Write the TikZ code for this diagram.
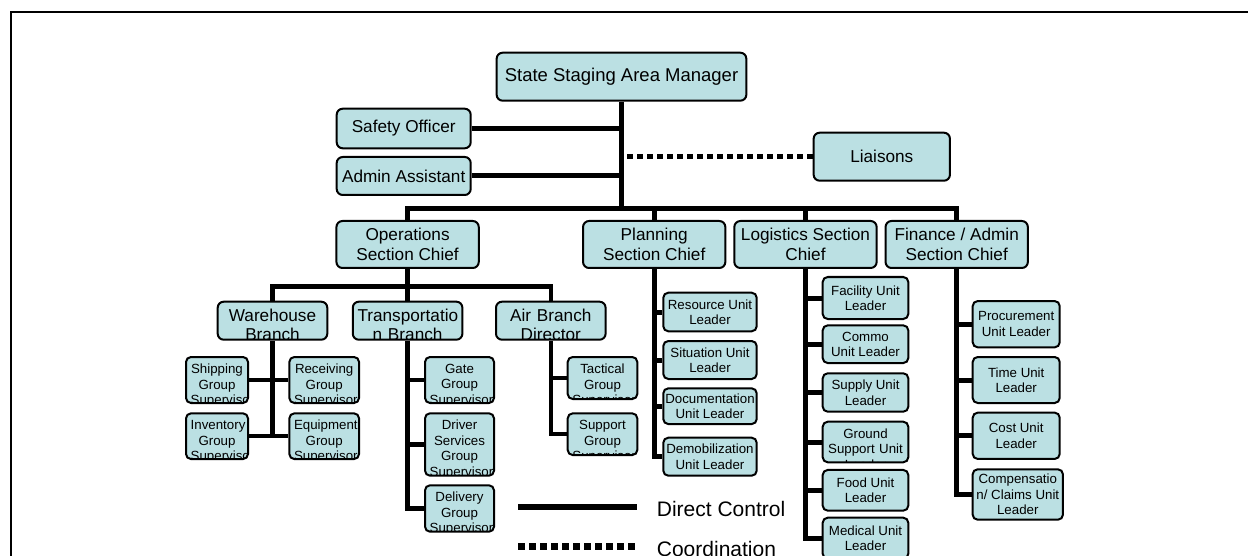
\documentclass[tikz,border=0pt]{standalone}
\usepackage{fontspec}
\setmainfont{Liberation Sans}
\usetikzlibrary{positioning}
\definecolor{boxfill}{HTML}{BBE0E3}
\hyphenpenalty=10000
\exhyphenpenalty=10000
\tikzset{
	box/.style={draw=black, line width=2pt, fill=boxfill, rounded corners=6pt, align=center, inner sep=2pt},
	big/.style={box, font=\fontsize{17.2}{19.8}\selectfont},
	unit/.style={box, rounded corners=5pt, font=\fontsize{13.3}{15.5}\selectfont},
	cut/.style 2 args={path picture={\node[draw=none, fill=none, inner sep=0pt, minimum size=0pt, align=center, text width=#1, anchor=north] at ([yshift=-6pt]path picture bounding box.north) {#2};}},
	direct/.style={line width=5pt},
	branchline/.style={line width=4.5pt},
	dotline/.style={line width=5pt, dash pattern=on 6pt off 4pt},
	legline/.style={line width=6pt},
	legdot/.style={line width=6.7pt, dash pattern=on 6.7pt off 4.3pt},
	legtext/.style={inner sep=0pt, font=\fontsize{21}{25}\selectfont}
}

\begin{document}
\begin{tikzpicture}[x=1pt, y=-1pt]

		\useasboundingbox (0,0) rectangle (1248,556);
		\clip (0,0) rectangle (1248,556);
		\draw[line width=2.3pt] (11,12.2) rectangle (1300,600);

		\node[big, font=\fontsize{18.5}{21}\selectfont, minimum width=249.7, minimum height=48] (mgr) at (621.5,76.7) {State Staging Area Manager};
		\node[big, minimum width=134, minimum height=39.6] (safe) at (403.7,128.5) {Safety Officer};
		\node[big, minimum width=134, minimum height=38] (asst) at (403.7,176) {Admin Assistant};
		\node[big, minimum width=136.3, minimum height=48] (lia) at (881.8,156.7) {Liaisons};
		\coordinate (bus) at (621.5,208.3);

		\node[big, minimum width=142.3, minimum height=47] (ops) at (407.6,244.5) {Operations\\Section Chief};
		\node[big, minimum width=142.3, minimum height=47] (plan) at (654.2,244.5) {Planning\\Section Chief};
		\node[big, minimum width=142.3, minimum height=47] (log) at (805.5,244.5) {Logistics Section\\Chief};
		\node[big, minimum width=142.3, minimum height=47] (fin) at (956.7,244.5) {Finance / Admin\\Section Chief};

		\begin{scope}
			\coordinate (opsbus) at (407.6,286.7);
			\node[big, minimum width=109.6, minimum height=38, cut={100.2pt}{Warehouse\\Branch}] (wh) at (272.5,320.7) {};
			\node[big, minimum width=109.6, minimum height=38, cut={100.2pt}{Transportatio\\n Branch}] (trans) at (407.6,320.7) {};
			\node[big, minimum width=109.6, minimum height=38, cut={100.2pt}{Air Branch\\Director}] (air) at (550.8,320.7) {};

			\node[unit, minimum width=62, minimum height=46, cut={52.6pt}{Shipping\\Group\\Supervisor}] (ship) at (217,380) {};
			\node[unit, minimum width=69.7, minimum height=46, cut={60.3pt}{Receiving\\Group\\Supervisor}] (recv) at (324.2,380) {};
			\node[unit, minimum width=62, minimum height=45.7, cut={52.6pt}{Inventory\\Group\\Supervisor}] (inv) at (217,436.2) {};
			\node[unit, minimum width=69.7, minimum height=45.7, cut={60.3pt}{Equipment\\Group\\Supervisor}] (equip) at (324.2,436.2) {};

			\node[unit, minimum width=69, minimum height=46, cut={59.6pt}{Gate\\Group\\Supervisor}] (gate) at (459.5,380) {};
			\node[unit, minimum width=69, minimum height=62.4, cut={59.6pt}{Driver\\Services\\Group\\Supervisor}] (drv) at (459.5,444.5) {};
			\node[unit, minimum width=69, minimum height=46.4, cut={59.6pt}{Delivery\\Group\\Supervisor}] (deliv) at (459.5,508.5) {};

			\node[unit, minimum width=69.6, minimum height=42, cut={60.2pt}{Tactical\\Group\\Supervisor}] (tact) at (602.5,378) {};
			\node[unit, minimum width=69.6, minimum height=41.7, cut={60.2pt}{Support\\Group\\Supervisor}] (supp) at (602.5,434.2) {};
		\end{scope}

		\node[unit, minimum width=93.4, minimum height=38.6] (res) at (710,312) {Resource Unit\\Leader};
		\node[unit, minimum width=93.4, minimum height=38] (sit) at (710,360) {Situation Unit\\Leader};
		\node[unit, minimum width=93.4, minimum height=35.7] (doc) at (710,406.2) {Documentation\\Unit Leader};
		\node[unit, minimum width=93.4, minimum height=38] (demob) at (710,456.7) {Demobilization\\Unit Leader};

		\node[unit, minimum width=85.6, minimum height=42] (fac) at (865.5,298) {Facility Unit\\Leader};
		\node[unit, minimum width=85.6, minimum height=37.7] (commo) at (865.5,344.2) {Commo\\Unit Leader};
		\node[unit, minimum width=85.6, minimum height=38.4] (sup) at (865.5,392.5) {Supply Unit\\Leader};
		\node[unit, minimum width=85.6, minimum height=40.6, cut={76.2pt}{Ground\\Support Unit\\Leader}] (grd) at (865.5,442) {};
		\node[unit, minimum width=85.6, minimum height=40.7] (food) at (865.5,490.3) {Food Unit\\Leader};
		\node[unit, minimum width=85.6, minimum height=41] (med) at (865.5,538.2) {Medical Unit\\Leader};

		\node[unit, minimum width=87, minimum height=46.3] (proc) at (1016.2,324.2) {Procurement\\Unit Leader};
		\node[unit, minimum width=87, minimum height=46] (time) at (1016.2,380) {Time Unit\\Leader};
		\node[unit, minimum width=87, minimum height=46.3] (cost) at (1016.2,435.8) {Cost Unit\\Leader};
		\node[unit, minimum width=90.3, minimum height=50.4] (comp) at (1017.8,494.5) {Compensatio\\n/ Claims Unit\\Leader};

		\draw[direct] (mgr.south) -- (bus);
		\draw[direct] (safe.east) -- (safe.east -| mgr.south);
		\draw[direct] (asst.east) -- (asst.east -| mgr.south);
		\draw[dotline] (lia.west) -- (lia.west -| mgr.south);
		\draw[direct] (ops.north) |- (bus) -| (fin.north);
		\draw[direct] (plan.north) -- (plan.north |- bus);
		\draw[direct] (log.north) -- (log.north |- bus);

		\draw[branchline] (ops.south) -- (trans.north);
		\draw[branchline] (wh.north) |- (opsbus) -| (air.north);
		\draw[branchline] (wh.south) -- (wh.south |- inv.east);
		\draw[branchline] (ship.east) -- (recv.west);
		\draw[branchline] (inv.east) -- (equip.west);
		\draw[branchline] (trans.south) |- (deliv.west);
		\draw[branchline] (gate.west) -- (gate.west -| trans.south);
		\draw[branchline] (drv.west) -- (drv.west -| trans.south);
		\draw[branchline] (air.south) |- (supp.west);
		\draw[branchline] (tact.west) -- (tact.west -| air.south);

		\draw[direct] (plan.south) |- (demob.west);
		\draw[direct] (res.west) -- (res.west -| plan.south);
		\draw[direct] (sit.west) -- (sit.west -| plan.south);
		\draw[direct] (doc.west) -- (doc.west -| plan.south);

		\draw[direct] (log.south) |- (med.west);
		\draw[direct] (fac.west) -- (fac.west -| log.south);
		\draw[direct] (commo.west) -- (commo.west -| log.south);
		\draw[direct] (sup.west) -- (sup.west -| log.south);
		\draw[direct] (grd.west) -- (grd.west -| log.south);
		\draw[direct] (food.west) -- (food.west -| log.south);

		\draw[direct] (fin.south) |- (comp.west);
		\draw[direct] (proc.west) -- (proc.west -| fin.south);
		\draw[direct] (time.west) -- (time.west -| fin.south);
		\draw[direct] (cost.west) -- (cost.west -| fin.south);

		\begin{scope}
			\coordinate (dcL) at (518.3,507.3);
			\coordinate (dcR) at (636.7,507.3);
			\coordinate (coL) at (518.3,546.7);
			\coordinate (coR) at (636.7,546.7);
			\draw[legline] (dcL) -- (dcR);
			\draw[legdot] (coL) -- (coR);
			\node[legtext, right=20pt of dcR, yshift=-2pt] (dc) {Direct Control};
			\node[legtext, right=20pt of coR, yshift=-2pt] (co) {Coordination};
		\end{scope}
	\end{tikzpicture}
\end{document}
